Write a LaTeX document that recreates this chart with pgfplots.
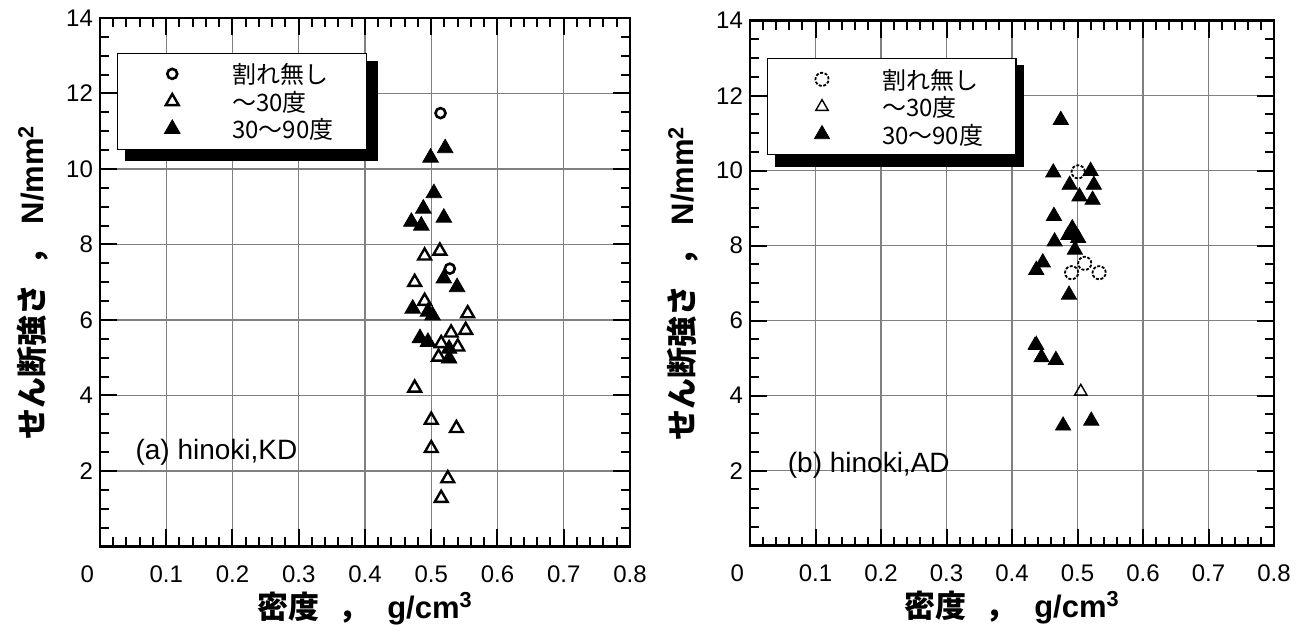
\documentclass[border=0pt]{standalone}
\usepackage{pgfplots}
\pgfplotsset{compat=1.18}
\usepackage{fontspec}
\setmainfont{Liberation Sans}
\newfontfamily\jp{Noto Sans CJK JP}

\pgfplotsset{
  myaxis/.style={
    scale only axis,
    xmin=0, xmax=0.8, ymin=0, ymax=14,
    xtick={0,0.1,0.2,0.3,0.4,0.5,0.6,0.7,0.8},
    xticklabels={,0.1,0.2,0.3,0.4,0.5,0.6,0.7,0.8},
    ytick={0,2,4,6,8,10,12,14},
    yticklabels={,2,4,6,8,10,12,14},
    extra x ticks={0},
    extra x tick labels={0},
    extra x tick style={grid=none, major tick length=0pt, xticklabel style={xshift=-6.3pt}},
    minor x tick num=4,
    minor y tick num=3,
    tick align=inside,
    major tick length=8.5pt,
    minor tick length=4.5pt,
    every tick/.style={black, line width=1pt},
    axis line style={black, line width=1.3pt},
    grid=major,
    major grid style={gray, line width=0.7pt},
    /pgf/number format/assume math mode=true,
    tick label style={font=\fontsize{12}{14}\selectfont},
    xticklabel style={yshift=-6pt},
    xlabel style={at={(axis description cs:0.5,0)}, anchor=base, yshift=-35.75pt, font=\fontsize{15.5}{18}\selectfont},
    xlabel={{\jp\bfseries 密度\hspace{9.5pt}，\hspace{9pt}}\textbf{g/cm\textsuperscript{3}}},
    ylabel={{\jp\bfseries せん断強さ\hspace{9.5pt}，\hspace{5pt}}\textbf{N/mm\textsuperscript{2}}},
    legend image code/.code={
      \path[draw=none, fill=none] (0pt,-1.875pt) rectangle (57.35pt,11.875pt);
      \draw[##1] plot coordinates {(27.35pt,5pt)};
    },
    legend style={anchor=north west, draw=black, line width=0.6pt, fill=white,
      inner xsep=0pt, inner ysep=3.4pt, row sep=0pt, column sep=0pt,
      cells={anchor=base west},
      nodes={inner sep=0pt, text height=11.875pt, text depth=1.875pt, text width=67pt, align=left, font=\jp\fontsize{12}{14}\selectfont}},
  }
}

\begin{document}
\begin{tikzpicture}
\path[use as bounding box] (0,0) rectangle (649.5pt,318pt);

% ---------------- (a) hinoki, KD ----------------
\begin{axis}[myaxis, at={(50pt,44.75pt)}, anchor=south west, width=265pt, height=264.25pt,
  ylabel style={at={(axis description cs:-0.1264,0.5)}, anchor=center, font=\fontsize{15.5}{18}\selectfont},
  legend style={at={(axis cs:0.0256,13.08)}}]
\fill[black] (axis cs:0.0377,12.87) rectangle (axis cs:0.419,10.20);
\addplot[only marks, mark=o, mark size=2.5pt, line width=1.3pt] coordinates {
(0.514,11.48) (0.528,7.36)};
\addlegendentry{割れ無し}
\addplot[only marks, mark=triangle, mark size=3.7pt, line width=1.2pt] coordinates {
(0.513,7.83) (0.490,7.70) (0.475,7.00) (0.490,6.50) (0.555,6.17) (0.552,5.73)
(0.530,5.66) (0.515,5.38) (0.540,5.29) (0.511,5.02) (0.475,4.20) (0.500,3.35)
(0.538,3.13) (0.500,2.60) (0.525,1.80) (0.515,1.28)};
\addlegendentry{〜30度}
\addplot[only marks, mark=triangle*, mark size=4.5pt, line width=0.4pt, fill=black] coordinates {
(0.521,10.55) (0.499,10.30) (0.504,9.36) (0.519,8.71) (0.470,8.60) (0.488,8.95)
(0.485,8.50) (0.519,7.10) (0.539,6.87) (0.472,6.30) (0.495,6.22) (0.502,6.12)
(0.483,5.52) (0.495,5.42) (0.527,5.24) (0.527,4.98)};
\addlegendentry{30〜90度}
\node[anchor=west, font=\fontsize{14}{16}\selectfont] at (axis cs:0.043,2.5) {(a) hinoki,KD};
\end{axis}

% ---------------- (b) hinoki, AD ----------------
\begin{axis}[myaxis, at={(375pt,45.15pt)}, anchor=south west, width=262pt, height=262.5pt,
  ylabel style={at={(axis description cs:-0.1279,0.5)}, anchor=center, font=\fontsize{15.5}{18}\selectfont},
  legend style={at={(axis cs:0.0255,13.0)}}]
\fill[black] (axis cs:0.0381,12.82) rectangle (axis cs:0.418,10.11);
\addplot[only marks, mark=o, mark size=3.3pt, line width=0.9pt, mark options={dash pattern=on 1.5pt off 0.8pt}] coordinates {
(0.501,9.97) (0.511,7.53) (0.491,7.28) (0.533,7.28)};
\addlegendentry{割れ無し}
\addplot[only marks, mark=triangle, mark size=3.6pt, line width=0.7pt] coordinates {
(0.435,5.35) (0.505,4.11)};
\addlegendentry{〜30度}
\addplot[only marks, mark=triangle*, mark size=4.4pt, line width=0.4pt, fill=black] coordinates {
(0.4745,11.35) (0.463,9.95) (0.520,9.99) (0.488,9.62) (0.525,9.62) (0.503,9.31)
(0.523,9.22) (0.464,8.79) (0.492,8.46) (0.493,8.33) (0.486,8.28) (0.501,8.20)
(0.465,8.11) (0.496,7.89) (0.447,7.55) (0.437,7.35) (0.487,6.69) (0.437,5.35)
(0.445,5.02) (0.467,4.95) (0.478,3.20) (0.521,3.33)};
\addlegendentry{30〜90度}
\node[anchor=west, font=\fontsize{14}{16}\selectfont] at (axis cs:0.047,2.15) {(b) hinoki,AD};
\end{axis}
\end{tikzpicture}
\end{document}
